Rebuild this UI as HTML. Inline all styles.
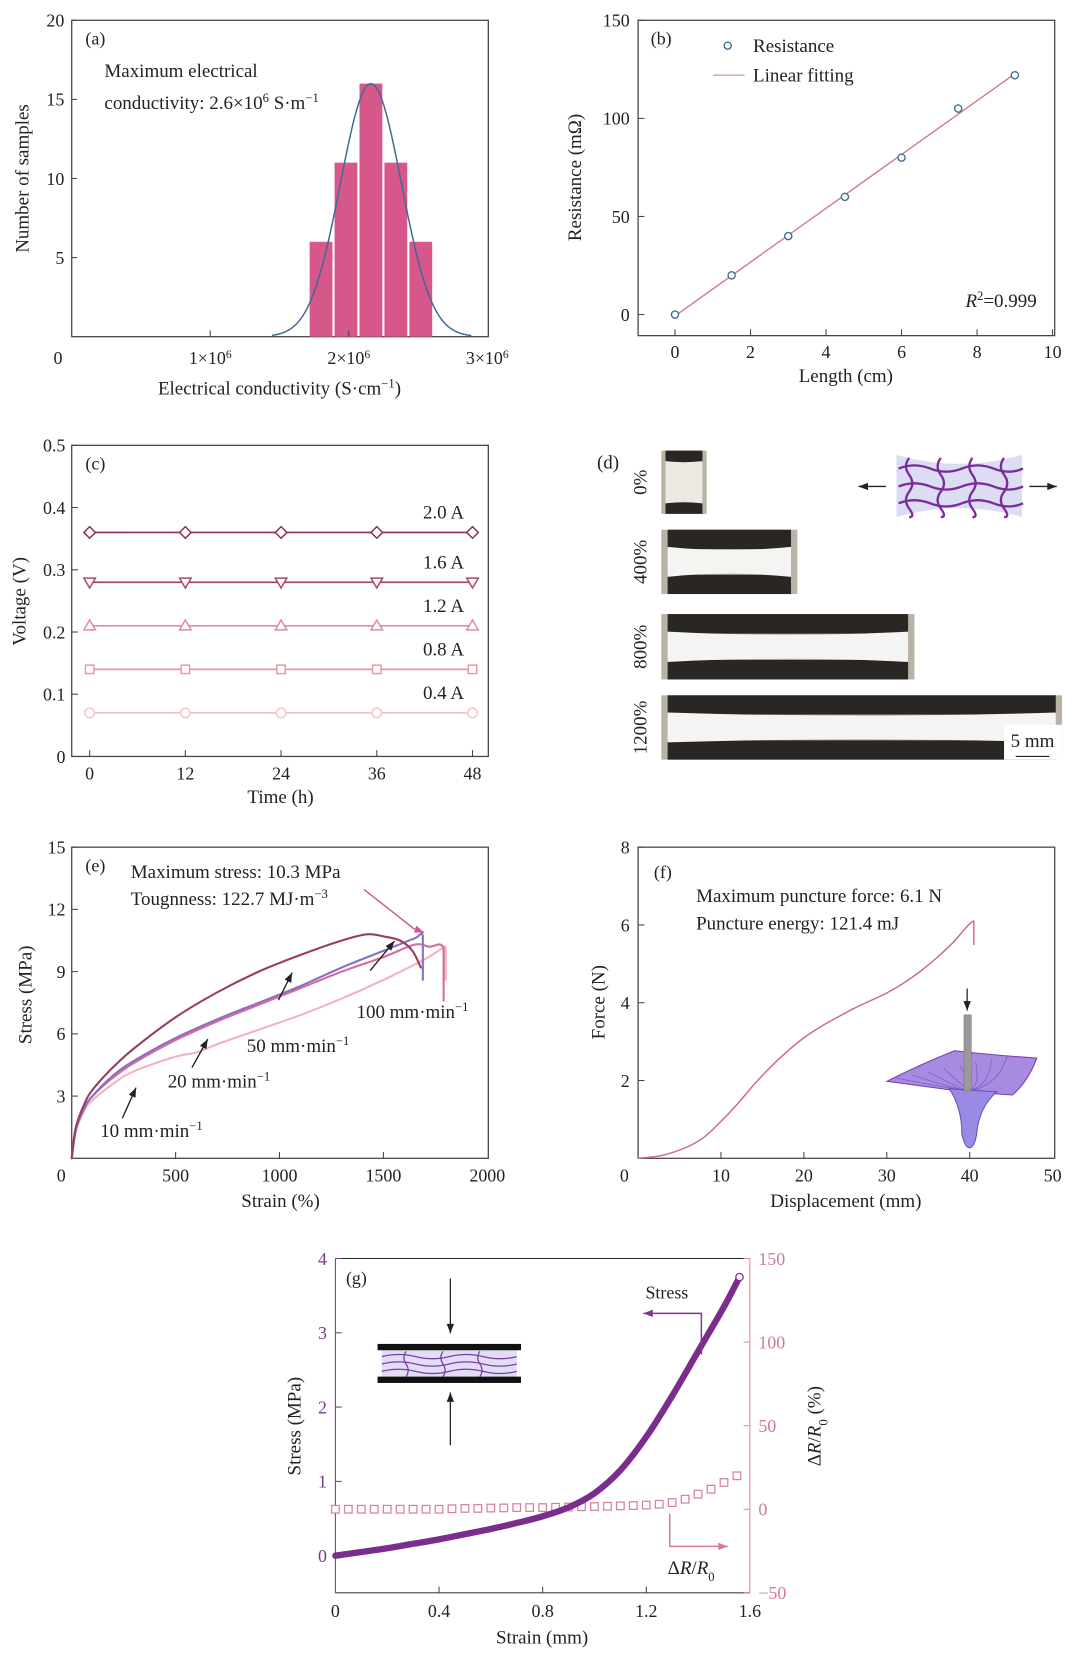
<!DOCTYPE html>
<html><head><meta charset="utf-8"><title>Figure panels a–g</title>
<style>
html,body{margin:0;padding:0;background:#fff;}
svg{display:block;font-family:"Liberation Serif",serif;}
</style></head>
<body>
<svg id="fig" width="1080" height="1659" viewBox="0 0 1024 1572.5" xmlns="http://www.w3.org/2000/svg">
<rect x="0" y="0" width="1024" height="1573" fill="#fff"/>
<g id="root"></g>
</svg>
<script>
// ---------- data ----------
// (a) histogram
const aBinCenters = [1.80e6, 1.98e6, 2.16e6, 2.34e6, 2.52e6];
const aCounts = [6, 11, 16, 11, 6];
const aBinWidth = [0.18e6];
const aFitParams = [16, 2.16e6, 0.22e6]; // amplitude, mean, sigma
const aFitRange = [1.45e6, 2.88e6];
const aXTicks = [0, 1e6, 2e6, 3e6];
const aXTickLabels = ['0', '1×10<tspan baseline-shift="super" font-size="11">6</tspan>', '2×10<tspan baseline-shift="super" font-size="11">6</tspan>', '3×10<tspan baseline-shift="super" font-size="11">6</tspan>'];
const aYTicks = [5, 10, 15, 20];
// (b) resistance
const bLength = [0, 1.5, 3, 4.5, 6, 7.5, 9];
const bResistance = [0, 20, 40, 60, 80, 105, 122];
const bXTicks = [0, 2, 4, 6, 8, 10];
const bYTicks = [0, 50, 100, 150];
// (c) voltage vs time
const cTimes = [0, 12, 24, 36, 48];
const cCurrents = ['2.0 A', '1.6 A', '1.2 A', '0.8 A', '0.4 A'];
const cVoltages = [0.36, 0.28, 0.21, 0.14, 0.07];
const cXTicks = [0, 12, 24, 36, 48];
const cYTicks = [0, 0.1, 0.2, 0.3, 0.4, 0.5];
// (e) stress-strain
const eStrain100 = [0, 20, 60, 100, 200, 300, 500, 700, 900, 1100, 1300, 1420, 1500, 1580, 1640, 1680];
const eStress100 = [0, 1.5, 2.6, 3.3, 4.4, 5.3, 6.8, 8.0, 9.0, 9.8, 10.5, 10.8, 10.7, 10.5, 10.0, 9.2];
const eStrain50 = [0, 20, 60, 100, 200, 300, 500, 700, 900, 1100, 1300, 1500, 1650, 1690, 1690];
const eStress50 = [0, 1.4, 2.4, 3.0, 4.0, 4.7, 5.8, 6.7, 7.5, 8.3, 9.2, 10.0, 10.6, 10.7, 8.6];
const eStrain20 = [0, 20, 60, 100, 200, 300, 500, 700, 900, 1100, 1300, 1500, 1650, 1720, 1790, 1790];
const eStress20 = [0, 1.4, 2.4, 3.0, 3.9, 4.6, 5.7, 6.6, 7.4, 8.2, 9.0, 9.7, 10.3, 10.2, 10.1, 7.6];
const eStrain10 = [0, 20, 60, 100, 200, 300, 500, 600, 700, 900, 1100, 1300, 1500, 1700, 1780, 1800, 1800];
const eStress10 = [0, 1.3, 2.3, 2.8, 3.6, 4.2, 4.9, 5.1, 5.5, 6.2, 6.9, 7.7, 8.6, 9.6, 10.1, 10.1, 8.6];
const eXTicks = [0, 500, 1000, 1500, 2000];
const eYTicks = [3, 6, 9, 12, 15];
// (f) puncture
const fDisp = [0, 3, 6, 8, 10, 12, 14, 16, 18, 20, 22, 24, 26, 28, 30, 32, 34, 36, 38, 40.5, 40.5];
const fForce = [0, 0.08, 0.3, 0.55, 0.95, 1.4, 1.9, 2.35, 2.75, 3.1, 3.38, 3.62, 3.85, 4.05, 4.25, 4.5, 4.8, 5.15, 5.55, 6.1, 5.5];
const fXTicks = [0, 10, 20, 30, 40, 50];
const fYTicks = [2, 4, 6, 8];
// (g) compression
const gStrain = [0, 0.1, 0.2, 0.3, 0.4, 0.5, 0.6, 0.7, 0.8, 0.9, 1.0, 1.1, 1.2, 1.3, 1.4, 1.5, 1.56];
const gStress = [0, 0.05, 0.1, 0.16, 0.22, 0.29, 0.36, 0.44, 0.53, 0.65, 0.84, 1.15, 1.6, 2.15, 2.75, 3.35, 3.75];
const gDRStrain = [0,0.05,0.1,0.15,0.2,0.25,0.3,0.35,0.4,0.45,0.5,0.55,0.6,0.65,0.7,0.75,0.8,0.85,0.9,0.95,1.0,1.05,1.1,1.15,1.2,1.25,1.3,1.35,1.4,1.45,1.5,1.55];
const gDR = [0,0,0,0,0,0,0,0,0,0.3,0.5,0.5,0.7,0.8,1,1,1,1.2,1.3,1.5,1.6,1.8,2,2.2,2.5,3,4,6,9,12,16,20];
const gXTicks = [0, 0.4, 0.8, 1.2, 1.6];
const gYTicks = [0, 1, 2, 3, 4];
const gRTicks = [-50, 0, 50, 100, 150];

// ---------- helpers ----------
const NS = 'http://www.w3.org/2000/svg';
const root = document.getElementById('root');
function lin(d0, d1, r0, r1) { return v => r0 + (v - d0) / (d1 - d0) * (r1 - r0); }
function mk(tag, attrs, parent) {
  const el = document.createElementNS(NS, tag);
  for (const k in attrs) el.setAttribute(k, attrs[k]);
  (parent || root).appendChild(el);
  return el;
}
function txt(x, y, html, name, o) {
  o = o || {};
  const el = mk('text', {x: x, y: y, 'font-size': o.size || 17, fill: o.fill || '#222', 'text-anchor': o.anchor || 'start'});
  if (o.rot) el.setAttribute('transform', 'rotate(' + o.rot + ' ' + x + ' ' + y + ')');
  if (o.italic) el.setAttribute('font-style', 'italic');
  el.innerHTML = html;
  
  
  return el;
}
function frame(x0, y0, x1, y1, name, col) {
  const r = mk('rect', {x: x0, y: y0, width: x1 - x0, height: y1 - y0, fill: 'none', stroke: col || '#444', 'stroke-width': 1.2});
  
  
}
function tick(x1, y1, x2, y2, name, col) {
  const l = mk('line', {x1: x1, y1: y1, x2: x2, y2: y2, stroke: col || '#444', 'stroke-width': 1});
  
  
}
function pathFrom(xs, ys, sx, sy, smooth) {
  const P = xs.map((v, i) => [sx(v), sy(ys[i])]);
  if (!smooth) return P.map((p, i) => (i ? 'L' : 'M') + p[0].toFixed(2) + ' ' + p[1].toFixed(2)).join(' ');
  let d = 'M' + P[0][0].toFixed(2) + ' ' + P[0][1].toFixed(2);
  for (let i = 0; i < P.length - 1; i++) {
    const p0 = P[Math.max(0, i - 1)], p1 = P[i], p2 = P[i + 1], p3 = P[Math.min(P.length - 1, i + 2)];
    if (Math.abs(p2[0] - p1[0]) < 0.01 || Math.abs(p3[0] - p2[0]) < 0.01 && i === P.length - 3 && false) { d += ' L' + p2[0].toFixed(2) + ' ' + p2[1].toFixed(2); continue; }
    const t = 1 / 6;
    const c1 = [p1[0] + (p2[0] - p0[0]) * t, p1[1] + (p2[1] - p0[1]) * t];
    const c2 = [p2[0] - (p3[0] - p1[0]) * t, p2[1] - (p3[1] - p1[1]) * t];
    d += ' C' + c1[0].toFixed(2) + ' ' + c1[1].toFixed(2) + ' ' + c2[0].toFixed(2) + ' ' + c2[1].toFixed(2) + ' ' + p2[0].toFixed(2) + ' ' + p2[1].toFixed(2);
  }
  return d;
}
function line(xs, ys, sx, sy, col, w, name, smooth) {
  const p = mk('path', {d: pathFrom(xs, ys, sx, sy, smooth), fill: 'none', stroke: col, 'stroke-width': w, 'stroke-linejoin': 'round', 'stroke-linecap': 'round'});
  
  
  return p;
}
function arrow(pts, col, name, w) {
  const d = pts.map((p, i) => (i ? 'L' : 'M') + p[0] + ' ' + p[1]).join(' ');
  const p = mk('path', {d: d, fill: 'none', stroke: col, 'stroke-width': w || 1.3});
  
  
  const a = pts[pts.length - 1], b = pts[pts.length - 2];
  const ang = Math.atan2(a[1] - b[1], a[0] - b[0]);
  const L = 9, W = 3.5;
  const hx = a[0] - L * Math.cos(ang), hy = a[1] - L * Math.sin(ang);
  const h = mk('polygon', {points: a[0] + ',' + a[1] + ' ' + (hx - W * Math.sin(ang)) + ',' + (hy + W * Math.cos(ang)) + ' ' + (hx + W * Math.sin(ang)) + ',' + (hy - W * Math.cos(ang)), fill: col});
  
  
}

// ---------- (a) ----------
{
  const xa = lin(0, 3e6, 68, 462), ya = lin(0, 20, 319, 19);
  frame(68, 19, 463, 319, 'panel-a-frame');
  aBinCenters.forEach((c, i) => {
    const r = mk('rect', {x: xa(c - aBinWidth[0] / 2) + 1, y: ya(aCounts[i]), width: xa(c + aBinWidth[0] / 2) - xa(c - aBinWidth[0] / 2) - 2, height: ya(0) - ya(aCounts[i]), fill: '#d6588a'});
    
    
  });
  const gx = [], gy = [];
  for (let i = 0; i <= 80; i++) {
    const v = aFitRange[0] + (aFitRange[1] - aFitRange[0]) * i / 80;
    gx.push(v);
    gy.push(aFitParams[0] * Math.exp(-Math.pow(v - aFitParams[1], 2) / (2 * aFitParams[2] * aFitParams[2])));
  }
  line(gx, gy, xa, ya, '#3f6996', 1.4, 'gaussian-fit-curve');
  aYTicks.forEach(t => { tick(68, ya(t), 73, ya(t), 'a-y-tick'); txt(61, ya(t) + 6, String(t), 'a-y-tick-label', {anchor: 'end'}); });
  aXTicks.forEach((t, i) => {
    if (i > 0 && i < 3) tick(xa(t), 319, xa(t), 313, 'a-x-tick');
    txt(i === 0 ? 55 : xa(t), 345, aXTickLabels[i], 'a-x-tick-label', {anchor: 'middle'});
  });
  txt(81, 42, '(a)', 'panel-a-label');
  txt(99, 73, 'Maximum electrical', 'a-annotation-line1', {size: 18});
  txt(99, 103, 'conductivity: 2.6×10<tspan baseline-shift="super" font-size="12">6</tspan> S·m<tspan baseline-shift="super" font-size="12">−1</tspan>', 'a-annotation-line2', {size: 18});
  txt(27, 169, 'Number of samples', 'a-y-axis-title', {anchor: 'middle', rot: -90, size: 18});
  txt(265, 374, 'Electrical conductivity (S·cm<tspan baseline-shift="super" font-size="12">−1</tspan>)', 'a-x-axis-title', {anchor: 'middle', size: 18});
}

// ---------- (b) ----------
{
  const xb = lin(0, 10, 640, 998), yb = lin(0, 150, 298, 19);
  frame(605, 19, 1000, 318, 'panel-b-frame');
  const n = bLength.length;
  const mx = bLength.reduce((s, v) => s + v, 0) / n, my = bResistance.reduce((s, v) => s + v, 0) / n;
  let sxy = 0, sxx = 0;
  bLength.forEach((v, i) => { sxy += (v - mx) * (bResistance[i] - my); sxx += (v - mx) * (v - mx); });
  const slope = sxy / sxx, icpt = my - slope * mx;
  const fx = [bLength[0], bLength[n - 1]];
  line(fx, fx.map(v => icpt + slope * v), xb, yb, '#d0788c', 1.3, 'linear-fit-line');
  bLength.forEach((v, i) => {
    const c = mk('circle', {cx: xb(v), cy: yb(bResistance[i]), r: 3.4, fill: '#fff', stroke: '#3e6f95', 'stroke-width': 1.3});
    
    
  });
  bYTicks.forEach(t => { tick(605, yb(t), 611, yb(t), 'b-y-tick'); txt(597, yb(t) + 6, String(t), 'b-y-tick-label', {anchor: 'end'}); });
  bXTicks.forEach(t => { tick(xb(t), 318, xb(t), 312, 'b-x-tick'); txt(xb(t), 339, String(t), 'b-x-tick-label', {anchor: 'middle'}); });
  txt(617, 42, '(b)', 'panel-b-label');
  const lc = mk('circle', {cx: 690, cy: 43, r: 3.4, fill: '#fff', stroke: '#3e6f95', 'stroke-width': 1.3});
  
  
  txt(714, 49, 'Resistance', 'legend-label-resistance', {size: 18});
  tick(676, 71, 706, 71, 'legend-line-linear-fitting', '#d0788c');
  txt(714, 77, 'Linear fitting', 'legend-label-linear-fitting', {size: 18});
  txt(983, 291, '<tspan font-style="italic">R</tspan><tspan baseline-shift="super" font-size="12">2</tspan>=0.999', 'r-squared-label', {anchor: 'end', size: 18});
  txt(551, 168, 'Resistance (mΩ)', 'b-y-axis-title', {anchor: 'middle', rot: -90, size: 18});
  txt(802, 362, 'Length (cm)', 'b-x-axis-title', {anchor: 'middle', size: 18});
}

// ---------- (c) ----------
{
  const xc = lin(0, 48, 85, 448), yc = lin(0, 0.5, 717, 422);
  frame(68, 422, 463, 717, 'panel-c-frame');
  const cols = ['#8a2f4f', '#a84a68', '#e28aa0', '#e59aa3', '#f2c6c8'];
  const shapes = ['diamond', 'tri-down', 'tri-up', 'square', 'circle'];
  cVoltages.forEach((v, k) => {
    line(cTimes, cTimes.map(() => v), xc, yc, cols[k], 1.6, 'voltage-line-' + cCurrents[k].replace(/[ .]/g, ''));
    cTimes.forEach(t => {
      const x = xc(t), y = yc(v), s = 5.5;
      let el;
      if (shapes[k] === 'diamond') el = mk('polygon', {points: [x, y - s, x + s, y, x, y + s, x - s, y].join(',')});
      else if (shapes[k] === 'tri-down') el = mk('polygon', {points: [x - s, y - s * 0.7, x + s, y - s * 0.7, x, y + s].join(',')});
      else if (shapes[k] === 'tri-up') el = mk('polygon', {points: [x - s, y + s * 0.7, x + s, y + s * 0.7, x, y - s].join(',')});
      else if (shapes[k] === 'square') el = mk('rect', {x: x - 4, y: y - 4, width: 8, height: 8});
      else el = mk('circle', {cx: x, cy: y, r: 4.5});
      el.setAttribute('fill', '#fff');
      el.setAttribute('stroke', cols[k]);
      el.setAttribute('stroke-width', 1.4);
      
      
    });
    txt(440, yc(v) - 13, cCurrents[k], 'current-label', {anchor: 'end', size: 18});
  });
  cYTicks.forEach(t => { tick(68, yc(t), 74, yc(t), 'c-y-tick'); txt(62, yc(t) + 6, String(t), 'c-y-tick-label', {anchor: 'end'}); });
  cXTicks.forEach(t => { tick(xc(t), 717, xc(t), 711, 'c-x-tick'); txt(xc(t), 739, String(t), 'c-x-tick-label', {anchor: 'middle'}); });
  txt(81, 445, '(c)', 'panel-c-label');
  txt(24, 570, 'Voltage (V)', 'c-y-axis-title', {anchor: 'middle', rot: -90, size: 18});
  txt(266, 761, 'Time (h)', 'c-x-axis-title', {anchor: 'middle', size: 18});
}

// ---------- (d) photos ----------
{
  txt(566, 444, '(d)', 'panel-d-label', {size: 18});
  const photos = [[627, 427, 670, 487, '0%'], [627, 502, 756, 563, '400%'], [627, 582, 867, 644, '800%'], [627, 659, 1007, 720, '1200%']];
  photos.forEach((p, i) => {
    const [x0, y0, x1, y1, lab] = p, w = x1 - x0, h = y1 - y0;
    const bg = mk('rect', {x: x0, y: y0, width: w, height: h, fill: '#b9b3a6'});
    
    
    const inset = i === 0 ? 4 : 6;
    const band = i === 0 ? 0.2 : 0.3;
    const t = mk('rect', {x: x0 + inset, y: y0, width: w - inset * 2, height: h * band, fill: '#2a2623'});
    
    
    const b = mk('rect', {x: x0 + inset, y: y0 + h * (1 - band), width: w - inset * 2, height: h * band, fill: '#2a2623'});
    
    
    const sm = i === 0 ? 0 : 4;
    const s = mk('path', {d: `M${x0 + inset} ${y0 + h * band - 2} Q${(x0 + x1) / 2} ${y0 + h * band + sm} ${x1 - inset} ${y0 + h * band - 2} L${x1 - inset} ${y0 + h * (1 - band) + 2} Q${(x0 + x1) / 2} ${y0 + h * (1 - band) - sm} ${x0 + inset} ${y0 + h * (1 - band) + 2} Z`, fill: i === 0 ? '#ece9e2' : '#f4f4f2'});
    
    
    txt(613, (y0 + y1) / 2, lab, 'strain-label-' + lab, {anchor: 'middle', rot: -90, size: 18});
  });
  const sb = mk('rect', {x: 952, y: 687, width: 55, height: 33, fill: '#fff'});
  
  
  txt(979, 708, '5 mm', 'scale-bar-label', {anchor: 'middle', size: 18});
  tick(963, 717, 995, 717, 'scale-bar', '#222');
  // schematic
  const sch = mk('path', {d: 'M850 431 Q910 448 969 431 L969 490 Q910 473 850 490 Z', fill: '#dcdcf3'});
  
  
  [444, 461, 477].forEach(y => {
    const p = mk('path', {d: `M852 ${y} q15 -6 30 0 t30 0 t30 0 t28 0`, fill: 'none', stroke: '#7a2d9a', 'stroke-width': 2.2});
    
    
  });
  [862, 892, 922, 952].forEach(x => {
    const p = mk('path', {d: `M${x} 434 q-6 8 0 16 t0 16 t0 16 t0 8`, fill: 'none', stroke: '#7a2d9a', 'stroke-width': 2.2});
    
    
  });
  arrow([[840, 461], [814, 461]], '#222', 'stretch-arrow-left', 1.3);
  arrow([[976, 461], [1002, 461]], '#222', 'stretch-arrow-right', 1.3);
}

// ---------- (e) ----------
{
  const xe = lin(0, 2000, 68, 462), ye = lin(0, 15, 1098, 803);
  frame(68, 803, 463, 1098, 'panel-e-frame');
  line(eStrain10, eStress10, xe, ye, '#f0b4bc', 2, 'curve-10-mm-min', true);
  line(eStrain20, eStress20, xe, ye, '#d86aa0', 2, 'curve-20-mm-min', true);
  line(eStrain50, eStress50, xe, ye, '#8a70c0', 2, 'curve-50-mm-min', true);
  line(eStrain100, eStress100, xe, ye, '#9a3d62', 2, 'curve-100-mm-min', true);
  eYTicks.forEach(t => { tick(68, ye(t), 74, ye(t), 'e-y-tick'); txt(62, ye(t) + 6, String(t), 'e-y-tick-label', {anchor: 'end'}); });
  eXTicks.forEach(t => { if (t > 0 && t < 2000) tick(xe(t), 1098, xe(t), 1092, 'e-x-tick'); txt(t === 0 ? 58 : xe(t), 1120, String(t), 'e-x-tick-label', {anchor: 'middle'}); });
  txt(81, 826, '(e)', 'panel-e-label');
  txt(124, 832, 'Maximum stress: 10.3 MPa', 'e-annotation-max-stress', {size: 18});
  txt(124, 858, 'Tougnness: 122.7 MJ·m<tspan baseline-shift="super" font-size="12">−3</tspan>', 'e-annotation-toughness', {size: 18});
  arrow([[345, 843], [392, 880], [402, 884]], '#d05a98', 'max-stress-arrow', 1.4);
  arrow([[351, 920], [374, 892]], '#222', 'speed-arrow-100');
  txt(338, 965, '100 mm·min<tspan baseline-shift="super" font-size="12">−1</tspan>', 'label-100-mm-min', {size: 18});
  arrow([[264, 948], [277, 922]], '#222', 'speed-arrow-50');
  txt(234, 997, '50 mm·min<tspan baseline-shift="super" font-size="12">−1</tspan>', 'label-50-mm-min', {size: 18});
  arrow([[182, 1012], [197, 985]], '#222', 'speed-arrow-20');
  txt(159, 1031, '20 mm·min<tspan baseline-shift="super" font-size="12">−1</tspan>', 'label-20-mm-min', {size: 18});
  arrow([[116, 1060], [129, 1031]], '#222', 'speed-arrow-10');
  txt(95, 1078, '10 mm·min<tspan baseline-shift="super" font-size="12">−1</tspan>', 'label-10-mm-min', {size: 18});
  txt(30, 943, 'Stress (MPa)', 'e-y-axis-title', {anchor: 'middle', rot: -90, size: 18});
  txt(266, 1144, 'Strain (%)', 'e-x-axis-title', {anchor: 'middle', size: 18});
}

// ---------- (f) ----------
{
  const xf = lin(0, 50, 605, 998), yf = lin(0, 8, 1098, 803);
  frame(605, 803, 1000, 1098, 'panel-f-frame');
  line(fDisp, fForce, xf, yf, '#d06a84', 1.4, 'puncture-force-curve', true);
  fYTicks.forEach(t => { tick(605, yf(t), 611, yf(t), 'f-y-tick'); txt(597, yf(t) + 6, String(t), 'f-y-tick-label', {anchor: 'end'}); });
  fXTicks.forEach(t => { if (t > 0 && t < 50) tick(xf(t), 1098, xf(t), 1092, 'f-x-tick'); txt(t === 0 ? 592 : xf(t), 1120, String(t), 'f-x-tick-label', {anchor: 'middle'}); });
  txt(620, 832, '(f)', 'panel-f-label');
  txt(660, 855, 'Maximum puncture force: 6.1 N', 'f-annotation-force', {size: 18});
  txt(660, 881, 'Puncture energy: 121.4 mJ', 'f-annotation-energy', {size: 18});
  const m1 = mk('path', {d: 'M841 1025 Q870 1010 905 996 Q940 1000 983 1003 Q975 1025 960 1038 L915 1035 Z', fill: '#a88be0', stroke: '#7a3fb0', 'stroke-width': 1});
  
  
  const m2 = mk('path', {d: 'M900 1032 Q912 1050 912 1075 Q915 1088 919 1088 Q924 1088 926 1075 Q928 1050 945 1035 Z', fill: '#9a8ae6', stroke: '#6a4fc0', 'stroke-width': 1});
  
  
  for (let k = 0; k < 8; k++) {
    const g = mk('path', {d: `M${850 + k * 15} ${1022 - k * 3} Q${890 + k * 8} ${1030} ${918} 1034`, fill: 'none', stroke: '#6c48b8', 'stroke-width': 0.5});
    
    
  }
  const rod = mk('rect', {x: 914, y: 962, width: 7, height: 72, fill: '#999', stroke: '#777', 'stroke-width': 0.5});
  
  
  arrow([[917, 937], [917, 958]], '#222', 'puncture-arrow', 1.2);
  txt(573, 950, 'Force (N)', 'f-y-axis-title', {anchor: 'middle', rot: -90, size: 18});
  txt(802, 1144, 'Displacement  (mm)', 'f-x-axis-title', {anchor: 'middle', size: 18});
}

// ---------- (g) ----------
{
  const xg = lin(0, 1.6, 318, 711), yg = lin(-0.5, 4, 1510, 1193), yr = lin(-50, 150, 1510, 1193);
  tick(318, 1193, 711, 1193, 'g-top-border', '#222');
  tick(318, 1510, 711, 1510, 'g-bottom-border', '#444');
  tick(318, 1193, 318, 1510, 'g-left-axis', '#7a3a8a');
  tick(711, 1193, 711, 1510, 'g-right-axis', '#d68aa5');
  gDRStrain.forEach((v, i) => {
    const r = mk('rect', {x: xg(v) - 3.6, y: yr(gDR[i]) - 3.6, width: 7.2, height: 7.2, fill: '#fff', stroke: '#d8839c', 'stroke-width': 1.2});
    
    
  });
  line(gStrain, gStress, xg, yg, '#7b2d8e', 6, 'compressive-stress-curve', true);
  const ec = mk('circle', {cx: xg(gStrain[gStrain.length - 1]), cy: yg(gStress[gStress.length - 1]), r: 3.5, fill: '#fff', stroke: '#7b2d8e', 'stroke-width': 1.2});
  
  
  gYTicks.forEach(t => { tick(318, yg(t), 324, yg(t), 'g-y-tick', '#7a3a8a'); txt(310, yg(t) + 6, String(t), 'g-y-tick-label', {anchor: 'end', fill: '#7a3a8a'}); });
  gRTicks.forEach(t => { tick(705, yr(t), 711, yr(t), 'g-right-tick', '#d68aa5'); txt(719, yr(t) + 6, (t < 0 ? '−' : '') + Math.abs(t), 'g-right-tick-label', {fill: '#d07a98'}); });
  gXTicks.forEach(t => { if (t > 0 && t < 1.6) tick(xg(t), 1510, xg(t), 1504, 'g-x-tick'); txt(xg(t), 1533, String(t), 'g-x-tick-label', {anchor: 'middle'}); });
  txt(328, 1217, '(g)', 'panel-g-label');
  const ib = mk('rect', {x: 362, y: 1280, width: 128, height: 25, fill: '#e2dcf6'});
  
  
  [1286, 1293, 1300].forEach(y => {
    const p = mk('path', {d: `M362 ${y} q16 -4 32 0 t32 0 t32 0 t32 0`, fill: 'none', stroke: '#7a3fa0', 'stroke-width': 1.2});
    
    
  });
  [385, 420, 455].forEach(x => {
    const p = mk('path', {d: `M${x} 1281 q-4 6 0 12 t0 12`, fill: 'none', stroke: '#7a3fa0', 'stroke-width': 1.2});
    
    
  });
  const tp = mk('rect', {x: 358, y: 1274, width: 136, height: 6, fill: '#111'});
  
  
  const bp = mk('rect', {x: 358, y: 1305, width: 136, height: 6, fill: '#111'});
  
  
  arrow([[427, 1212], [427, 1264]], '#222', 'compress-arrow-down', 1.2);
  arrow([[427, 1370], [427, 1320]], '#222', 'compress-arrow-up', 1.2);
  arrow([[665, 1284], [665, 1245], [610, 1245]], '#7b3a8e', 'stress-axis-arrow', 1.4);
  txt(612, 1231, 'Stress', 'stress-series-label', {size: 17});
  arrow([[635, 1435], [635, 1466], [690, 1466]], '#d67a95', 'dr-axis-arrow', 1.4);
  txt(633, 1492, 'Δ<tspan font-style="italic">R</tspan>/<tspan font-style="italic">R</tspan><tspan baseline-shift="sub" font-size="12">0</tspan>', 'dr-series-label', {size: 18});
  txt(285, 1352, 'Stress (MPa)', 'g-y-axis-title', {anchor: 'middle', rot: -90, size: 18});
  txt(778, 1352, 'Δ<tspan font-style="italic">R</tspan>/<tspan font-style="italic">R</tspan><tspan baseline-shift="sub" font-size="12">0</tspan> (%)', 'g-right-axis-title', {anchor: 'middle', rot: -90, size: 18});
  txt(514, 1558, 'Strain (mm)', 'g-x-axis-title', {anchor: 'middle', size: 18});
}
</script>
</body></html>
